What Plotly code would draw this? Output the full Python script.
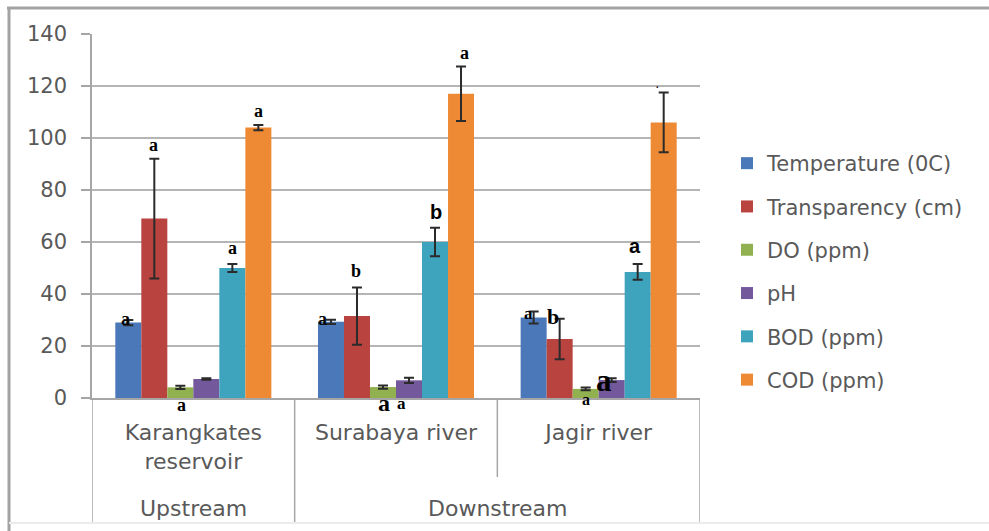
import plotly.graph_objects as go

# Sampling sites (inner level) and river section (outer level)
sites = ["Karangkates reservoir", "Surabaya river", "Jagir river"]
site_labels = ["Karangkates<br>reservoir", "Surabaya river", "Jagir river"]
sections = ["Upstream", "Downstream"]
section_spans = [(0, 0), (1, 2)]  # first and last site index of each section

# Water quality parameters: mean and standard deviation per site
parameters = ["Temperature (0C)", "Transparency (cm)", "DO (ppm)", "pH", "BOD (ppm)", "COD (ppm)"]
temperature = [29.0, 29.3, 31.0]
temperature_sd = [1.0, 0.8, 2.3]
transparency = [69.0, 31.5, 22.7]
transparency_sd = [23.0, 11.0, 7.8]
dissolved_oxygen = [4.1, 4.2, 3.5]
dissolved_oxygen_sd = [0.6, 0.6, 0.5]
ph = [7.3, 6.8, 6.9]
ph_sd = [0.3, 1.0, 0.7]
bod = [50.0, 60.0, 48.5]
bod_sd = [1.5, 5.5, 3.0]
cod = [104.0, 117.0, 106.0]
cod_sd = [1.0, 10.5, 11.5]

means = [temperature, transparency, dissolved_oxygen, ph, bod, cod]
sds = [temperature_sd, transparency_sd, dissolved_oxygen_sd, ph_sd, bod_sd, cod_sd]
colors = ["#4a78b8", "#b9433f", "#91b04f", "#73589b", "#3ea3bd", "#ee8a33"]

# Significance letters: (site, parameter, letter, y value, size, family, x shift px)
SERIF = "Liberation Serif"
SANS = "Liberation Sans"
letters = [
    (0, 0, "a", 30.8, 18, SERIF, -3),
    (0, 1, "a", 97.7, 18, SERIF, -1),
    (0, 2, "a", -2.3, 18, SERIF, 1),
    (0, 4, "a", 58.0, 18, SERIF, 0),
    (0, 5, "a", 110.8, 18, SERIF, 0),
    (1, 0, "a", 30.8, 18, SERIF, -8),
    (1, 1, "b", 49.2, 18, SERIF, -1),
    (1, 2, "a", -1.5, 24, SERIF, 1),
    (1, 3, "a", -1.9, 17, SERIF, -8),
    (1, 4, "b", 72.0, 20, SANS, 1),
    (1, 5, "a", 133.0, 18, SERIF, 3),
    (2, 0, "a", 32.7, 17, SERIF, -5),
    (2, 1, "b", 31.9, 22, SERIF, -7),
    (2, 2, "a", 0.0, 16, SERIF, 0),
    (2, 3, "a", 7.0, 31, SERIF, -8),
    (2, 4, "a", 58.8, 20, SANS, -3),
    (2, 5, ".", 120.8, 10, SERIF, -6),
]

W, H = 989, 531
ML, MR, MT, MB = 92, 289, 34, 133
PW, PH = W - ML - MR, H - MT - MB
Y_MAX = 140
BARGAP = 0.23
TEXT = "#595959"
LINE = "#a6a6a6"
FONT = "DejaVu Sans"


def px_x(p):
    return (p - ML) / PW


def px_y(p):
    return (H - MB - p) / PH


fig = go.Figure()
for i, name in enumerate(parameters):
    fig.add_trace(go.Bar(
        x=sites, y=means[i], name=name, legendgroup=name,
        marker=dict(color=colors[i], line=dict(width=0)),
        error_y=dict(type="data", array=sds[i], color="#2b2b2b", thickness=2, width=5),
    ))

bar_w = (1 - BARGAP) / len(parameters)
annotations = []
for ci, si, txt, yv, size, fam, dx in letters:
    # letters below the baseline are anchored at zero and pushed down in pixels
    y_anchor = max(yv, 0.0)
    dy = min(yv, 0.0) * PH / Y_MAX
    annotations.append(dict(
        x=ci + (si - (len(parameters) - 1) / 2) * bar_w, y=y_anchor, xref="x", yref="y",
        text=f"<b>{txt}</b>", showarrow=False, xshift=dx, yshift=dy - 1,
        font=dict(family=fam, size=size, color="#000000"),
        xanchor="center", yanchor="middle",
    ))

# Outer-level category labels
for label, (a, b) in zip(sections, section_spans):
    annotations.append(dict(
        x=(a + b) / 2, y=px_y(508), xref="x", yref="paper", text=label,
        showarrow=False, font=dict(family=FONT, size=22, color=TEXT),
        xanchor="center", yanchor="middle",
    ))

shapes = []
# Category dividers below the axis
boundaries = [-0.5, 0.5, 1.5, 2.5]
for xb in boundaries:
    outer = xb in (-0.5, 0.5, 2.5)
    shapes.append(dict(
        type="line", xref="x", yref="paper", x0=xb, x1=xb,
        y0=0, y1=px_y(523 if outer else 477),
        line=dict(color=LINE, width=1.5),
    ))

# Chart frame
shapes += [
    dict(type="line", xref="paper", yref="paper", x0=px_x(9), x1=px_x(9),
         y0=px_y(7), y1=px_y(531), line=dict(color="#a3a3a3", width=3)),
    dict(type="line", xref="paper", yref="paper", x0=px_x(7), x1=px_x(989),
         y0=px_y(8), y1=px_y(8), line=dict(color="#a3a3a3", width=3)),
    dict(type="line", xref="paper", yref="paper", x0=px_x(9), x1=px_x(989),
         y0=px_y(523), y1=px_y(523), line=dict(color="#ececec", width=2)),
]

fig.update_layout(
    width=W, height=H, autosize=False,
    margin=dict(l=ML, r=MR, t=MT, b=MB, pad=0, autoexpand=False),
    paper_bgcolor="white", plot_bgcolor="white",
    barmode="group", bargap=BARGAP, bargroupgap=0,
    font=dict(family=FONT, size=20, color=TEXT),
    xaxis=dict(
        type="category", range=[-0.5, 2.5], tickvals=sites, ticktext=site_labels,
        showline=True, linecolor=LINE, linewidth=1.5, showgrid=False,
        ticks="", ticklabelstandoff=14,
        tickfont=dict(family=FONT, size=22, color=TEXT),
    ),
    yaxis=dict(
        range=[0, Y_MAX], dtick=20, showgrid=True, gridcolor="#b5b5b5", gridwidth=1.5,
        showline=True, linecolor=LINE, linewidth=1.5, zeroline=False,
        ticks="outside", ticklen=9, tickcolor=LINE, tickwidth=1.5,
        ticklabelstandoff=10,
        tickfont=dict(family=FONT, size=21, color=TEXT),
    ),
    legend=dict(
        x=px_x(727), xanchor="left", y=px_y(143), yanchor="top",
        font=dict(family=FONT, size=21, color=TEXT),
        tracegroupgap=13, traceorder="grouped", bgcolor="rgba(0,0,0,0)",
    ),
    annotations=annotations,
    shapes=shapes,
)

fig.write_html("out.html")
